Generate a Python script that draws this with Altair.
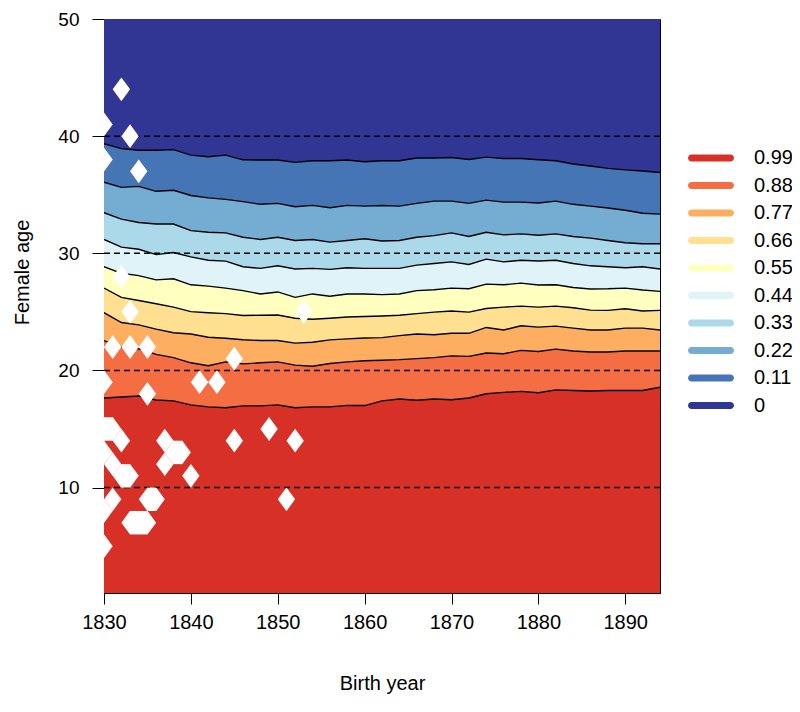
import altair as alt
import pandas as pd

# ---------------- data ----------------
years = list(range(1830, 1895, 2))

levels = ["0.99", "0.88", "0.77", "0.66", "0.55", "0.44", "0.33", "0.22", "0.11", "0"]
colors = ["#d73027", "#f46d43", "#fdae61", "#fee090", "#ffffbf",
          "#e0f3f8", "#abd9e9", "#74add1", "#4575b4", "#313695"]

# contour boundaries (female age) per birth year, from top (line1) to bottom (line9)
line1 = [39.35, 38.93, 38.80, 38.80, 38.85, 38.38, 38.24, 38.38, 37.98, 37.96, 37.96, 37.76, 37.90, 37.90, 37.96, 37.82, 37.90,
         37.90, 38.13, 38.13, 38.18, 38.01, 38.21, 38.09, 38.09, 37.98, 37.90, 37.62, 37.45, 37.25, 37.12, 37.03, 36.89]
line2 = [36.07, 35.63, 35.71, 35.29, 35.38, 34.93, 34.73, 34.60, 34.41, 34.18, 34.26, 33.97, 34.09, 33.89, 34.09, 34.03, 34.08,
         34.03, 34.26, 34.45, 34.45, 34.26, 34.54, 34.37, 34.37, 34.29, 34.45, 34.18, 34.03, 33.87, 33.67, 33.42, 33.34]
line3 = [33.47, 32.92, 32.63, 32.50, 32.50, 31.93, 31.79, 31.74, 31.37, 31.18, 31.37, 31.09, 31.18, 30.95, 31.09, 31.24, 31.05,
         31.09, 31.37, 31.51, 31.74, 31.43, 31.79, 31.57, 31.66, 31.54, 31.66, 31.43, 31.29, 31.09, 30.90, 30.82, 30.82]
line4 = [31.18, 30.53, 30.34, 29.89, 30.06, 29.69, 29.41, 29.33, 28.85, 28.71, 28.93, 28.66, 28.71, 28.63, 28.76, 28.71, 28.71,
         28.71, 28.99, 29.13, 29.27, 29.05, 29.50, 29.27, 29.41, 29.34, 29.41, 29.13, 28.93, 28.85, 28.76, 28.85, 28.66]
line5 = [28.85, 28.29, 28.09, 27.73, 27.82, 27.31, 27.20, 27.03, 26.81, 26.53, 26.70, 26.24, 26.53, 26.33, 26.53, 26.53, 26.47,
         26.53, 26.81, 26.89, 27.03, 26.97, 27.37, 27.31, 27.45, 27.29, 27.31, 27.08, 26.95, 26.97, 27.03, 26.87, 26.75]
line6 = [27.03, 26.24, 25.97, 25.69, 25.40, 25.02, 24.93, 24.85, 24.69, 24.71, 24.73, 24.45, 24.37, 24.45, 24.56, 24.60, 24.65,
         24.71, 24.85, 24.98, 25.07, 24.98, 25.29, 25.40, 25.49, 25.40, 25.49, 25.35, 25.15, 25.13, 25.27, 25.07, 25.13]
line7 = [24.93, 24.09, 23.89, 23.53, 23.22, 23.11, 22.83, 22.75, 22.62, 22.55, 22.55, 22.33, 22.41, 22.61, 22.69, 22.77, 22.80,
         22.97, 23.11, 23.05, 23.17, 23.17, 23.67, 23.45, 23.81, 23.70, 23.78, 23.61, 23.45, 23.45, 23.61, 23.61, 23.45]
line8 = [22.55, 21.99, 21.85, 21.37, 21.09, 20.65, 20.40, 20.73, 20.56, 20.65, 20.73, 20.45, 20.36, 20.59, 20.73, 20.82, 20.87,
         20.92, 21.01, 21.09, 21.24, 21.20, 21.49, 21.43, 21.71, 21.62, 21.82, 21.66, 21.57, 21.57, 21.66, 21.66, 21.66]
line9 = [17.65, 17.73, 17.82, 17.48, 17.40, 17.06, 16.89, 16.81, 16.97, 16.97, 17.06, 16.81, 16.89, 16.89, 17.02, 17.00, 17.40,
         17.56, 17.45, 17.56, 17.50, 17.65, 18.01, 18.13, 18.21, 18.09, 18.34, 18.29, 18.24, 18.29, 18.29, 18.29, 18.57]

age_min, age_max = 1, 50
year_min, year_max = 1830, 1894

# missing cells (drawn white)
na_year = [1832, 1830, 1833, 1830, 1834, 1832, 1833, 1853, 1831, 1833, 1835, 1845, 1830, 1841, 1843, 1835,
           1830, 1831, 1832, 1830, 1831, 1832, 1833, 1831, 1830, 1835, 1836, 1833, 1834, 1835, 1830,
           1837, 1838, 1839, 1837, 1840, 1845, 1849, 1852, 1851]
na_age = [44, 41, 40, 38, 37, 28, 25, 25, 22, 22, 22, 21, 19, 19, 19, 18,
          15, 15, 14, 13, 12, 11, 11, 9, 8, 9, 9, 7, 7, 7, 5,
          14, 13, 13, 12, 11, 14, 15, 14, 9]

dash_ages = [10, 20, 30, 40]
x_ticks = [1830, 1840, 1850, 1860, 1870, 1880, 1890]
y_ticks = [10, 20, 30, 40, 50]

# ---------------- tables ----------------
lines = [line1, line2, line3, line4, line5, line6, line7, line8, line9]
top_to_bottom = [[age_max] * len(years)] + lines + [[age_min] * len(years)]
band_names = list(reversed(levels))  # "0" on top ... "0.99" at the bottom

rows = []
for i, name in enumerate(band_names):
    hi = top_to_bottom[i]
    lo = top_to_bottom[i + 1]
    for yr, a, b in zip(years, lo, hi):
        rows.append({"year": yr, "lo": a, "hi": b, "band": name})
bands = pd.DataFrame(rows)

line_rows = []
for k, ln in enumerate(lines):
    for yr, a in zip(years, ln):
        line_rows.append({"year": yr, "age": a, "line": k})
contours = pd.DataFrame(line_rows)

na = pd.DataFrame({"year": na_year, "age": na_age})
cells = set(zip(na_year, na_age))
fill_rows = []
for (yr, a) in cells:
    if (yr + 1, a) in cells:
        fill_rows.append({"x1": yr, "x2": yr + 1, "y1": a - 1, "y2": a + 1})
    if (yr, a + 1) in cells:
        fill_rows.append({"x1": yr - 1, "x2": yr + 1, "y1": a, "y2": a + 1})
fills = pd.DataFrame(fill_rows)

dashes = pd.DataFrame({"age": dash_ages})

# ---------------- chart ----------------
FONT = "Liberation Sans"
xscale = alt.Scale(domain=[year_min, year_max], nice=False, zero=False)
yscale = alt.Scale(domain=[age_min, age_max], nice=False, zero=False)

legend_path = "M-2.12,-0.38H2.12A0.38,0.38,0,0,1,2.12,0.38H-2.12A0.38,0.38,0,0,1,-2.12,-0.38Z"

area = alt.Chart(bands).mark_area(interpolate="linear", opacity=1, clip=True).encode(
    x=alt.X("year:Q", scale=xscale,
            axis=alt.Axis(values=x_ticks, format="d", title="Birth year", labelFontSize=20,
                          titleFontSize=20, titleFontWeight="normal", tickSize=11, labelPadding=8,
                          grid=False, domainColor="black", tickColor="black", labelColor="black",
                          titleColor="black", titleY=96, titleBaseline="alphabetic", labelFlush=False)),
    y=alt.Y("lo:Q", scale=yscale, stack=None,
            axis=alt.Axis(values=y_ticks, title="Female age", labelFontSize=19, titleFontSize=20,
                          titleFontWeight="normal", tickSize=12, labelPadding=13, grid=False,
                          domainColor="black", tickColor="black", labelColor="black", titleColor="black",
                          titleX=-76, titleY=253, titleBaseline="alphabetic", labelFlush=False)),
    y2="hi:Q",
    color=alt.Color("band:N", scale=alt.Scale(domain=levels, range=colors),
                    legend=alt.Legend(title=None, orient="none", legendX=597, legendY=129,
                                      symbolType=legend_path, symbolSize=338, symbolStrokeWidth=0,
                                      symbolOpacity=1, labelFontSize=20, labelFont=FONT,
                                      labelColor="black", labelOffset=33, rowPadding=7.5, padding=0)),
    detail="band:N",
)

contour_lines = alt.Chart(contours).mark_line(color="black", strokeWidth=1.4, clip=True).encode(
    x=alt.X("year:Q", scale=xscale),
    y=alt.Y("age:Q", scale=yscale),
    detail="line:N",
)

rules = alt.Chart(dashes).mark_rule(color="black", strokeWidth=1.5, strokeDash=[6, 4]).encode(
    y=alt.Y("age:Q", scale=yscale),
)

fill_layer = alt.Chart(fills).mark_rect(color="white", clip=True).encode(
    x=alt.X("x1:Q", scale=xscale), x2="x2:Q",
    y=alt.Y("y1:Q", scale=yscale), y2="y2:Q",
)

diamond_path = "M0,-1.37L1,0L0,1.37L-1,0Z"
diamonds = alt.Chart(na).mark_point(shape=diamond_path, filled=True, color="white", opacity=1,
                                    size=302, strokeWidth=0, clip=True).encode(
    x=alt.X("year:Q", scale=xscale),
    y=alt.Y("age:Q", scale=yscale),
)

chart = alt.layer(area, contour_lines, rules, fill_layer, diamonds).properties(
    width=556, height=574,
    autosize=alt.AutoSizeParams(type="none"),
    padding={"left": 96, "top": 11, "right": 132, "bottom": 104},
).configure(font=FONT).configure_view(stroke="black", strokeWidth=1)

chart.save("out.html", embed_options={"renderer": "svg", "actions": False})
